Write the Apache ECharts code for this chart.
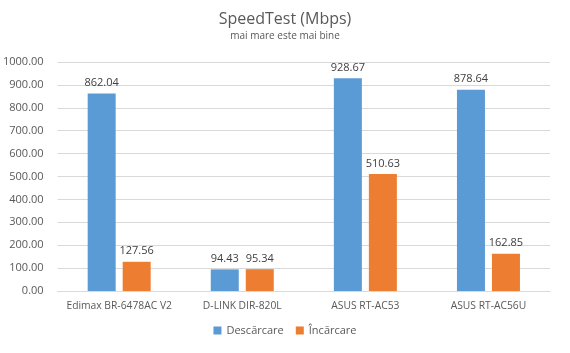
<!DOCTYPE html>
<html>
<head>
<meta charset="utf-8">
<script src="https://cdn.jsdelivr.net/npm/echarts@6/dist/echarts.min.js"></script>
<style>
  html, body { margin: 0; padding: 0; background: #fff; }
  #chart { width: 570px; height: 353px; }
</style>
</head>
<body>
<div id="chart"></div>
<script>
const categories = ["Edimax BR-6478AC V2", "D-LINK DIR-820L", "ASUS RT-AC53", "ASUS RT-AC56U"];
const download = [862.04, 94.43, 928.67, 878.64];
const upload = [127.56, 95.34, 510.63, 162.85];
const seriesNames = ["Descărcare", "Încărcare"];

const font = "'Open Sans', 'Noto Sans', sans-serif";
const textColor = "#595959";

const chart = echarts.init(document.getElementById("chart"));

const labelOpt = {
  show: true,
  position: "top",
  color: "#404040",
  fontFamily: font,
  fontSize: 11,
  distance: 5,
  formatter: (p) => p.value.toFixed(2)
};

chart.setOption({
  animation: false,
  title: {
    text: "SpeedTest (Mbps)",
    subtext: "mai mare este mai bine",
    left: "center",
    top: 6,
    itemGap: 4,
    textStyle: { fontFamily: font, fontSize: 16, fontWeight: "normal", color: textColor },
    subtextStyle: { fontFamily: font, fontSize: 10, color: textColor }
  },
  legend: {
    bottom: 12,
    left: "center",
    itemWidth: 8,
    itemHeight: 8,
    itemGap: 12,
    icon: "rect",
    textStyle: { fontFamily: font, fontSize: 11, color: textColor }
  },
  grid: { left: 57, right: 20, top: 62, bottom: 62, containLabel: false },
  xAxis: {
    type: "category",
    data: categories,
    axisLine: { lineStyle: { color: "#d9d9d9" } },
    axisTick: { show: false },
    axisLabel: { interval: 0, fontFamily: font, fontSize: 10.3, color: textColor, margin: 10 }
  },
  yAxis: {
    type: "value",
    min: 0,
    max: 1000,
    interval: 100,
    axisLine: { show: false },
    axisTick: { show: false },
    axisLabel: { fontFamily: font, fontSize: 11, color: textColor, margin: 14, formatter: (v) => v.toFixed(2) },
    splitLine: { lineStyle: { color: "#d9d9d9" } }
  },
  series: [
    {
      name: seriesNames[0],
      type: "bar",
      data: download,
      barWidth: 28,
      barGap: "25%",
      itemStyle: { color: "#5B9BD5" },
      label: labelOpt
    },
    {
      name: seriesNames[1],
      type: "bar",
      data: upload,
      barWidth: 28,
      itemStyle: { color: "#ED7D31" },
      label: labelOpt
    }
  ]
});
</script>
</body>
</html>
